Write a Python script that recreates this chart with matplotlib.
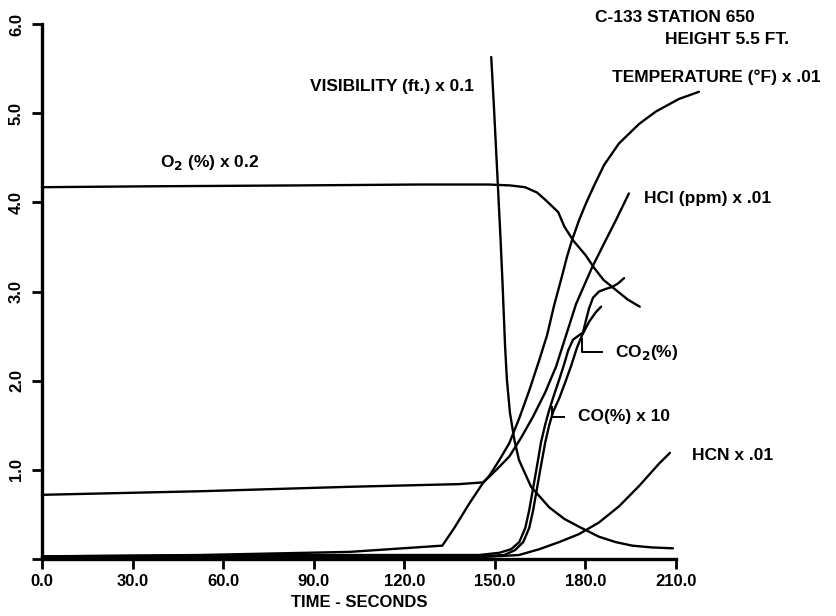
import matplotlib
matplotlib.use("Agg")
import matplotlib.pyplot as plt

plt.rcParams['font.family'] = ['Liberation Sans', 'DejaVu Sans']
plt.rcParams['font.weight'] = 'bold'

# Time (s) and scaled readings for each measured quantity
o2_t = [0, 36, 85, 125, 148, 155, 160, 164, 167, 171, 173, 176, 180, 183, 186, 190, 194, 198]
o2_v = [4.17, 4.18, 4.19, 4.20, 4.20, 4.19, 4.17, 4.11, 4.02, 3.89, 3.73, 3.57, 3.41, 3.26, 3.13, 3.02, 2.91, 2.83]

vis_t = [148.8, 149.7, 150.8, 151.9, 152.5, 153.4, 154.0, 155, 156.5, 158, 162, 168, 173, 178, 184.5, 190, 195.5, 202, 209]
vis_v = [5.63, 5.07, 4.33, 3.58, 3.13, 2.38, 2.01, 1.64, 1.33, 1.11, 0.81, 0.58, 0.45, 0.36, 0.25, 0.19, 0.15, 0.13, 0.12]

temp_t = [0, 52.2, 101.9, 138.2, 146.2, 148.1, 151.5, 154.8, 158.1, 161.4, 164.7, 167.3, 169.6,
          172.3, 173.9, 175.6, 177.9, 180.2, 182.9, 186.2, 191.1, 197.8, 203.4, 211.0, 217.6]
temp_v = [0.72, 0.76, 0.81, 0.84, 0.86, 0.93, 1.11, 1.30, 1.58, 1.89, 2.23, 2.51, 2.84,
          3.18, 3.39, 3.58, 3.80, 3.99, 4.19, 4.42, 4.66, 4.88, 5.02, 5.16, 5.24]

hcl_t = [0, 52.2, 101.9, 132.6, 136.6, 141.5, 146.2, 150.5, 154.8, 158.7, 162.7, 166.7, 170.3,
         173.6, 176.9, 182.2, 186.2, 190.1, 194.4]
hcl_v = [0.03, 0.045, 0.08, 0.15, 0.35, 0.62, 0.86, 1.00, 1.15, 1.36, 1.60, 1.87, 2.16,
         2.51, 2.86, 3.27, 3.54, 3.80, 4.10]

co2_t = [0, 85.3, 144.8, 151.5, 155.4, 158.1, 160.1, 161.4, 162.7, 164.0, 165.3, 166.7, 168.0,
         169.6, 171.3, 173.0, 174.3, 175.9, 177.9, 179.2, 180.2, 181.2, 182.5, 184.5, 186.8,
         188.8, 190.8, 192.8]
co2_v = [0.03, 0.045, 0.045, 0.07, 0.11, 0.19, 0.35, 0.55, 0.80, 1.05, 1.31, 1.51, 1.67,
         1.84, 2.01, 2.19, 2.34, 2.46, 2.51, 2.54, 2.68, 2.81, 2.93, 3.00, 3.03,
         3.05, 3.09, 3.15]

co_t = [0, 85.3, 144.8, 153.1, 156.7, 159.4, 161.4, 162.7, 164.0, 165.3, 166.7, 168.0, 169.3,
        171.3, 173.3, 175.3, 177.2, 178.9, 181.2, 183.5, 185.2]
co_v = [0.02, 0.03, 0.03, 0.045, 0.10, 0.19, 0.35, 0.55, 0.80, 1.05, 1.31, 1.50, 1.65,
        1.80, 1.98, 2.17, 2.37, 2.51, 2.66, 2.77, 2.83]

hcn_t = [0, 100, 144.8, 158, 164.7, 171.3, 177.9, 184.5, 191.1, 197.8, 204.4, 208]
hcn_v = [0.01, 0.01, 0.02, 0.045, 0.11, 0.19, 0.28, 0.41, 0.59, 0.82, 1.07, 1.19]

x_ticks = [0, 30, 60, 90, 120, 150, 180, 210]
x_labels = ['0.0', '30.0', '60.0', '90.0', '120.0', '150.0', '180.0', '210.0']
y_ticks = [0, 1, 2, 3, 4, 5, 6]
y_labels = ['', '1.0', '2.0', '3.0', '4.0', '5.0', '6.0']

# bracket-style leaders (time, value) running from a curve out to its label
co2_leader_t = [178.9, 178.9, 185.5]
co2_leader_v = [2.47, 2.32, 2.32]
co_leader_t = [169.0, 169.0, 172.9]
co_leader_v = [1.70, 1.59, 1.59]

fig = plt.figure(figsize=(8.36, 6.16), dpi=100)
ax = fig.add_axes([0.0502, 0.0925, 0.7584, 0.8685])

lw = 1.7
for t, v in [(o2_t, o2_v), (vis_t, vis_v), (temp_t, temp_v), (hcl_t, hcl_v),
             (co2_t, co2_v), (co_t, co_v), (hcn_t, hcn_v)]:
    ax.plot(t, v, color='black', lw=lw, clip_on=False, solid_capstyle='round',
            solid_joinstyle='round')

for t, v in [(co2_leader_t, co2_leader_v), (co_leader_t, co_leader_v)]:
    ax.plot(t, v, color='black', lw=1.4, clip_on=False)

ax.set_xlim(0, 210)
ax.set_ylim(0, 6)
ax.set_xticks(x_ticks)
ax.set_xticklabels(x_labels, fontsize=12, fontweight='bold')
ax.set_yticks(y_ticks)
ax.set_yticklabels(y_labels, fontsize=12, fontweight='bold', rotation=90, va='center')
ax.tick_params(axis='x', direction='out', length=7, width=2, pad=4)
ax.tick_params(axis='y', direction='out', length=7, width=2, pad=6)
for s in ['top', 'right']:
    ax.spines[s].set_visible(False)
for s in ['left', 'bottom']:
    ax.spines[s].set_linewidth(2.4)
ax.set_xlabel('TIME - SECONDS', fontsize=12, fontweight='bold', labelpad=4)

def label(x, y, s, **kw):
    fig.text(x / 836, 1 - y / 616, s, fontsize=12.5, fontweight='bold', va='center', **kw)

label(595, 17, 'C-133 STATION 650')
label(665, 39, 'HEIGHT 5.5 FT.')
label(612, 77, 'TEMPERATURE (°F) x .01')
label(310, 86, 'VISIBILITY (ft.) x 0.1')
label(160, 163, 'O$_2$ (%) x 0.2')
label(644, 199, 'HCl (ppm) x .01')
label(615, 352, 'CO$_2$(%)')
label(578, 417, 'CO(%) x 10')
label(692, 455, 'HCN x .01')

fig.savefig('out.png', dpi=100)
